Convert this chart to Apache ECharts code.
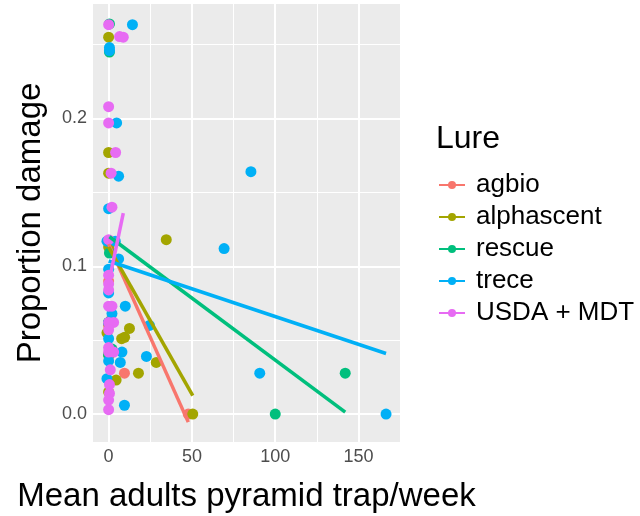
<!DOCTYPE html>
<html>
<head>
<meta charset="utf-8">
<script src="https://cdn.jsdelivr.net/npm/echarts@6/dist/echarts.min.js"></script>
<style>html,body{margin:0;padding:0;background:#fff}#c{width:640px;height:516px}</style>
</head>
<body>
<div id="c"></div>
<script>
const lureNames = ['agbio', 'alphascent', 'rescue', 'trece', 'USDA + MDT'];
const lureColors = ['#F8766D', '#A3A500', '#00BF7D', '#00B0F6', '#E76BF3'];

const agbioPts = [[0.5,0.116],[1,0.11],[0,0.06],[9.5,0.0277],[0.5,0.04],[47.8,0],[0,0.09],[1.5,0.064]];
const alphascentPts = [[0,0.255],[0,0.177],[0,0.163],[34.6,0.118],[0,0.113],[0,0.062],[12.5,0.058],[9.6,0.052],[7.8,0.051],[28.6,0.035],[17.9,0.0277],[4.5,0.023],[0,0.015],[50.5,0],[0,0.04],[-1,0.055]];
const rescuePts = [[0.5,0.264],[0.5,0.245],[0.5,0.109],[0,0.062],[0,0.04],[100,0],[142,0.0277],[2,0.044]];
const trecePts = [[14.3,0.2635],[0.5,0.246],[0.5,0.248],[4.8,0.197],[6,0.161],[0,0.139],[4,0.117],[6,0.105],[0,0.098],[0,0.082],[10,0.073],[0,0.062],[0,0.051],[8,0.042],[0,0.036],[22.7,0.039],[24.5,0.06],[7,0.035],[-1,0.024],[9.5,0.006],[69.3,0.112],[85.4,0.164],[90.7,0.0277],[166.5,0],[2,0.068],[-1,0.117]];
const usdaPts = [[0,0.2635],[6.6,0.2554],[0,0.208],[0,0.197],[4.2,0.177],[1.5,0.163],[2,0.14],[0,0.118],[0,0.094],[0,0.088],[0,0.084],[0,0.073],[2,0.073],[3,0.062],[0,0.062],[0,0.042],[3,0.042],[0,0.045],[0.5,0.02],[0.5,0.014],[0,0.0095],[0,0.003],[0,0.057],[1,0.03],[8.8,0.255]];

const agbioFit = [[0,0.115],[47.8,-0.0054]];
const alphascentFit = [[0,0.113],[50.5,0.0125]];
const rescueFit = [[0.5,0.12],[142,0.0014]];
const treceFit = [[0,0.1036],[166.5,0.041]];
const usdaFit = [[0,0.0885],[8.8,0.136]];

const xTicks = [0, 50, 100, 150];
const xMinor = [25, 75, 125];
const yTicks = [0, 0.1, 0.2];
const yMinor = [0.05, 0.15, 0.25];

const allPts = [agbioPts, alphascentPts, rescuePts, trecePts, usdaPts];
const allFits = [agbioFit, alphascentFit, rescueFit, treceFit, usdaFit];

// ggplot-like 5% expansion of the data range
const flat = allPts.flat().concat(allFits.flat());
const xs = flat.map(p => p[0]), ys = flat.map(p => p[1]);
const x0 = Math.min(...xs), x1 = Math.max(...xs);
const y0 = Math.min(...ys), y1 = Math.max(...ys);
const xPad = (x1 - x0) * 0.05, yPad = (y1 - y0) * 0.05;

const series = [];
// panel grid lines
series.push({
  type: 'line', data: [], silent: true, z: 1,
  markLine: {
    silent: true, z: 1, symbol: ['none', 'none'], label: { show: false }, animation: false,
    data: []
      .concat(xMinor.map(v => ({ xAxis: v, lineStyle: { color: '#fff', width: 1, type: 'solid' } })))
      .concat(yMinor.map(v => ({ yAxis: v, lineStyle: { color: '#fff', width: 1, type: 'solid' } })))
      .concat(xTicks.map(v => ({ xAxis: v, lineStyle: { color: '#fff', width: 2, type: 'solid' } })))
      .concat(yTicks.map(v => ({ yAxis: v, lineStyle: { color: '#fff', width: 2, type: 'solid' } })))
  }
});
lureNames.forEach((n, i) => {
  series.push({
    name: n, type: 'line', data: allFits[i], z: 4,
    symbol: 'circle', symbolSize: 10, showSymbol: false,
    lineStyle: { color: lureColors[i], width: 3.5 }, itemStyle: { color: lureColors[i] },
    animation: false, silent: true
  });
});
lureNames.forEach((n, i) => {
  series.push({
    name: n, type: 'scatter', data: allPts[i], z: 3,
    symbol: 'circle', symbolSize: 11,
    itemStyle: { color: lureColors[i], opacity: 1 },
    animation: false
  });
});

const chart = echarts.init(document.getElementById('c'), null, { renderer: 'canvas' });
chart.setOption({
  backgroundColor: '#fff',
  animation: false,
  title: {
    text: 'Lure', left: 431, top: 118,
    textStyle: { fontFamily: 'Liberation Sans', fontSize: 32, fontWeight: 'normal', color: '#000' }
  },
  legend: {
    data: lureNames, orient: 'vertical', left: 433, top: 167,
    itemWidth: 26, itemHeight: 10, itemGap: 6,
    textStyle: { fontFamily: 'Liberation Sans', fontSize: 26, color: '#000', padding: [0, 0, 0, 6] },
    selectedMode: false
  },
  grid: {
    left: 93, right: 240, top: 4, bottom: 74,
    outerBoundsMode: 'none', containLabel: false,
    show: true, backgroundColor: '#EBEBEB', borderWidth: 0
  },
  xAxis: {
    type: 'value', min: x0 - xPad, max: x1 + xPad,
    name: 'Mean adults pyramid trap/week', nameLocation: 'middle', nameGap: 38,
    nameTextStyle: { fontFamily: 'Liberation Sans', fontSize: 33, color: '#000' },
    axisLine: { show: false },
    axisTick: { show: true, length: 4, customValues: xTicks, lineStyle: { color: '#333', width: 1 } },
    axisLabel: { customValues: xTicks, fontFamily: 'Liberation Sans', fontSize: 18, color: '#4D4D4D', margin: 6 },
    splitLine: { show: false }
  },
  yAxis: {
    type: 'value', min: y0 - yPad, max: y1 + yPad,
    name: 'Proportion damage', nameLocation: 'middle', nameGap: 46,
    nameTextStyle: { fontFamily: 'Liberation Sans', fontSize: 33, color: '#000' },
    axisLine: { show: false },
    axisTick: { show: true, length: 4, customValues: yTicks, lineStyle: { color: '#333', width: 1 } },
    axisLabel: { customValues: yTicks, formatter: v => v.toFixed(1), fontFamily: 'Liberation Sans', fontSize: 18, color: '#4D4D4D', margin: 6 },
    splitLine: { show: false }
  },
  series: series
});
</script>
</body>
</html>
